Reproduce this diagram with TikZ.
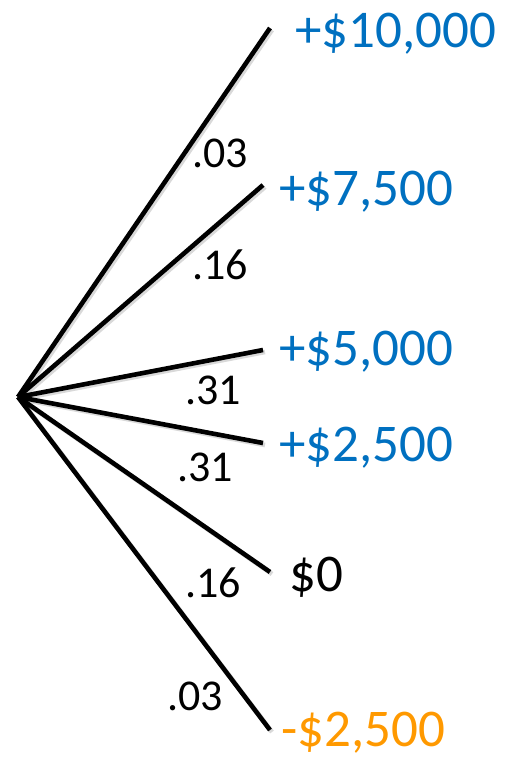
\documentclass[tikz,border=0pt]{standalone}
\usepackage{fontspec}
\setmainfont{Carlito}
\definecolor{valblue}{HTML}{0070C0}
\definecolor{valorange}{HTML}{FF9900}
\begin{document}
\begin{tikzpicture}[x=1pt,y=-1pt,
  branch/.style={line width=4.6pt,black,line cap=butt},
  shadowline/.style={line width=4.6pt,black!25,opacity=0.6},
  prob/.style={font=\fontsize{44}{50}\selectfont,inner sep=0pt,anchor=center},
  val/.style={font=\fontsize{53}{60}\selectfont,inner sep=0pt,anchor=west}]
\useasboundingbox (0,0) rectangle (504,758);
\coordinate (root) at (18,397);
\coordinate (e1) at (270,28);
\coordinate (e2) at (263,185);
\coordinate (e3) at (263,350);
\coordinate (e4) at (263,443);
\coordinate (e5) at (270,572);
\coordinate (e6) at (270,730);
\foreach \e in {e1,e2,e3,e4,e5,e6}{
  \draw[shadowline] ([shift={(2,2)}]root) -- ([shift={(2,2)}]\e);
}
\foreach \e in {e1,e2,e3,e4,e5,e6}{
  \draw[branch] (root) -- (\e);
}
\node[val,text=valblue] (v1) at (295,34) {+\$10,000};
\node[val,text=valblue] (v2) at (279,192) {+\$7,500};
\node[val,text=valblue] (v3) at (279,352) {+\$5,000};
\node[val,text=valblue] (v4) at (279,448) {+\$2,500};
\node[val,text=black] (v5) at (289,577) {\$0};
\node[val,text=valorange] (v6) at (281,733) {-\$2,500};
\node[prob] (p1) at (220,153) {.03};
\node[prob] (p2) at (220,265) {.16};
\node[prob] (p3) at (213,390) {.31};
\node[prob] (p4) at (205,467) {.31};
\node[prob] (p5) at (213,583) {.16};
\node[prob] (p6) at (195,696) {.03};
\end{tikzpicture}
\end{document}
